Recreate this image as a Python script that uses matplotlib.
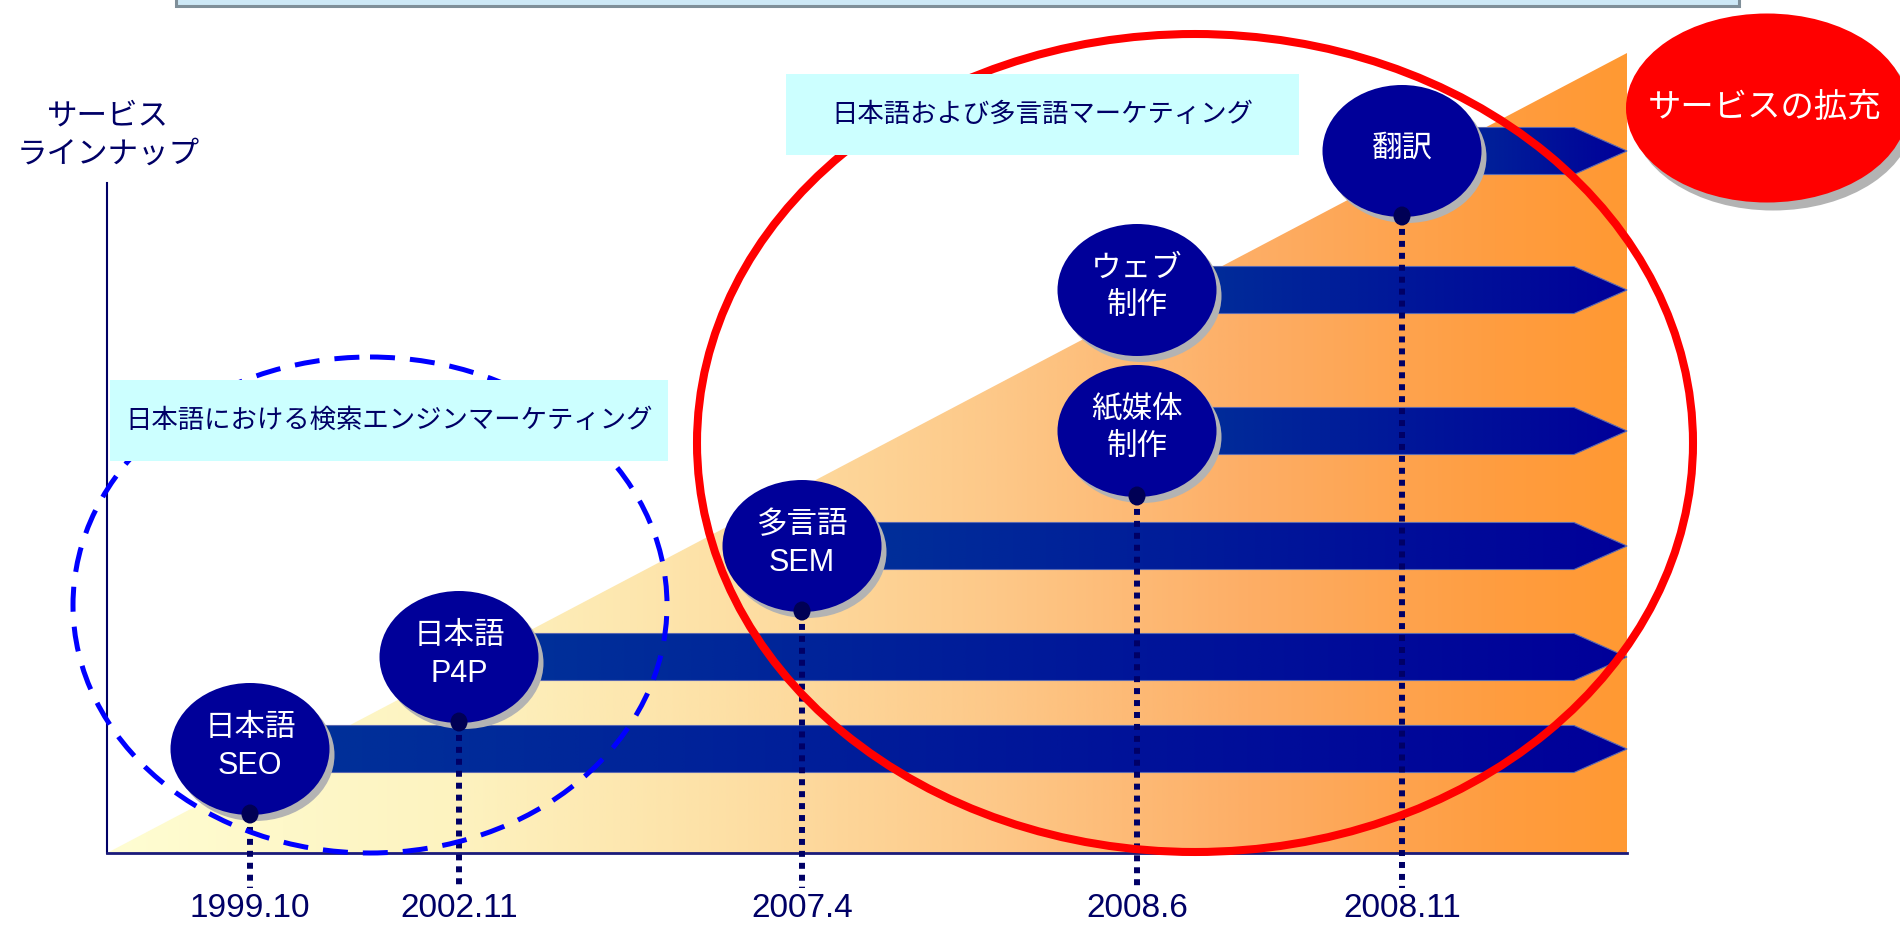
import numpy as np
import matplotlib.pyplot as plt
from matplotlib.patches import Ellipse, Polygon, Rectangle
from matplotlib.colors import LinearSegmentedColormap

# services and the date each one was launched
services = ['日本語\nSEO', '日本語\nP4P', '多言語\nSEM', '紙媒体\n制作', 'ウェブ\n制作', '翻訳']
launch = ['1999.10', '2002.11', '2007.4', '2008.6', '2008.6', '2008.11']
dates = ['1999.10', '2002.11', '2007.4', '2008.6', '2008.11']
group_labels = ['日本語における検索エンジンマーケティング', '日本語および多言語マーケティング']
callout = 'サービスの拡充'
ylabel = 'サービス\nラインナップ'

# layout (pixel positions on the slide)
date_x = [250, 459, 802, 1137, 1402]
lane_y = [749, 657, 546, 431, 290, 151]
x_left, x_right, y_base, y_top = 107, 1627, 853, 53

NAVY = '#000066'
CJK = ['Noto Sans CJK JP', 'DejaVu Sans']
LAT = ['Liberation Sans', 'Noto Sans CJK JP']

fig = plt.figure(figsize=(19, 9.25), dpi=100)
ax = fig.add_axes([0, 0, 1, 1])


def grad_fill(verts, x0, x1, cmap, z):
    poly = Polygon(verts, closed=True, facecolor='none', edgecolor='none', zorder=z)
    ax.add_patch(poly)
    arr = cmap(np.linspace(0, 1, 400))[None, :, :3].repeat(2, axis=0)
    ys = [v[1] for v in verts]
    im = ax.imshow(arr, extent=(x0, x1, max(ys), min(ys)), aspect='auto',
                   zorder=z, interpolation='bilinear')
    im.set_clip_path(poly)


# background growth triangle
tri_cmap = LinearSegmentedColormap.from_list('tri', [
    (0.0, '#fffdd2'), (0.226, '#fdf3c0'), (0.39, '#fde2a8'), (0.587, '#fdc888'),
    (0.752, '#fdae66'), (0.916, '#ff9d40'), (1.0, '#ff9933')])
grad_fill([(x_left, y_base), (x_right, y_top), (x_right, y_base)], x_left, x_right, tri_cmap, 1)

# axes lines
ax.plot([x_left, x_left], [183, y_base], color=NAVY, lw=1.5, zorder=2)
ax.plot([x_left, x_right], [y_base, y_base], color='#1a1a7a', lw=2, zorder=2)

# service arrows
bar_cmap = LinearSegmentedColormap.from_list('bar', ['#003399', '#000099'])
bar_h, head = 47, 53
for i, name in enumerate(services):
    xs = date_x[dates.index(launch[i])]
    yc = lane_y[i]
    verts = [(xs, yc - bar_h / 2), (x_right - head, yc - bar_h / 2), (x_right, yc),
             (x_right - head, yc + bar_h / 2), (xs, yc + bar_h / 2)]
    grad_fill(verts, xs, x_right, bar_cmap, 3)
    ax.add_patch(Polygon(verts, closed=True, facecolor='none', edgecolor='#5a68b0', lw=0.8, zorder=3.1))

# service bubbles
ew, eh = 159, 132
for i, name in enumerate(services):
    xc = date_x[dates.index(launch[i])]
    yc = lane_y[i]
    ax.add_patch(Ellipse((xc + 5, yc + 6), ew, eh, facecolor='#b3b3b3', edgecolor='none', zorder=5))
    ax.add_patch(Ellipse((xc, yc), ew, eh, facecolor='#000099', edgecolor='none', zorder=5.1))
    ax.text(xc, yc - 2, name, ha='center', va='center', fontsize=22, color='white',
            family=LAT, linespacing=1.35, zorder=9)

# dotted drop lines to the timeline, pinned under the lowest bubble of each date
for j, d in enumerate(dates):
    idx = [i for i in range(len(services)) if launch[i] == d]
    y_start = max(lane_y[i] for i in idx) + eh / 2
    ax.plot([date_x[j], date_x[j]], [y_start, 888], color=NAVY, lw=4.3,
            linestyle=(0, (1.0, 1.0)), zorder=4)
    ax.add_patch(Ellipse((date_x[j], y_start - 1), 17, 19, facecolor='#000055',
                         edgecolor='none', zorder=5.2))
    ax.text(date_x[j], 924, d, ha='center', va='bottom', fontsize=24,
            family=LAT, color=NAVY, zorder=9)

# highlight rings
ax.add_patch(Ellipse((370, 605), 594, 496, facecolor='none', edgecolor='#0000ff', lw=3.6,
                     linestyle=(0, (5, 3)), zorder=6))
ax.add_patch(Ellipse((1195, 443), 996, 818, facecolor='none', edgecolor='#ff0000', lw=5.8, zorder=7))

# group labels
boxes = [(110, 380, 558, 81), (786, 74, 513, 81)]
for (bx, by, bw, bh), lab in zip(boxes, group_labels):
    ax.add_patch(Rectangle((bx, by), bw, bh, facecolor='#ccffff', edgecolor='none', zorder=8))
    ax.text(bx + bw / 2, by + bh / 2, lab, ha='center', va='center', fontsize=19,
            family=CJK, color=NAVY, zorder=9)

# callout bubble
ax.add_patch(Ellipse((1773, 116), 282, 189, facecolor='#b3b3b3', edgecolor='none', zorder=8))
ax.add_patch(Ellipse((1767, 108), 282, 189, facecolor='#ff0000', edgecolor='none', zorder=8.1))
ax.text(1765, 108, callout, ha='center', va='center', fontsize=24, color='white',
        family=CJK, zorder=9)

# y axis title
ax.text(108, 135, ylabel, ha='center', va='center', fontsize=22, color=NAVY,
        family=CJK, linespacing=1.3, zorder=9)

# title bar strip at the top
ax.add_patch(Rectangle((176, -20), 1563, 26, facecolor='#cde8f6', edgecolor='#7f8f99', lw=2.2, zorder=8))

ax.set_xlim(0, 1900)
ax.set_ylim(925, 0)
ax.axis('off')
fig.savefig('out.png', dpi=100)
